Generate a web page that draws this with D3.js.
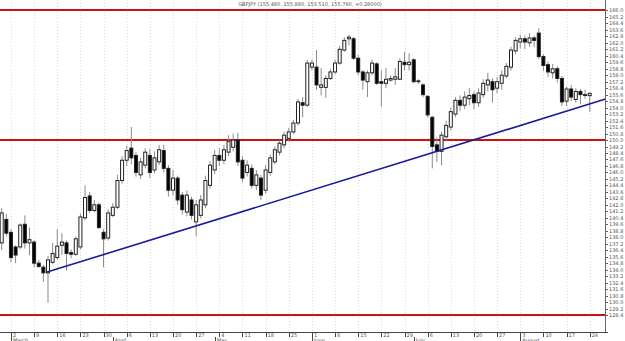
<!DOCTYPE html>
<html>
<head>
<meta charset="utf-8">
<script src="https://cdn.jsdelivr.net/npm/d3@7"></script>
<style>
  body { margin: 0; background: #fff; }
  text { font-family: "DejaVu Sans", Arial, sans-serif; fill: #555; }
</style>
</head>
<body>
<div id="chart"></div>
<script>
// Chart text
const title = "GBPJPY (155.480, 155.880, 153.510, 155.760, +0.28000)";
const firstDay = "2009-02-26";
const lastDay = "2009-08-24";
const monthNames = ["January", "February", "March", "April", "May", "June",
                    "July", "August", "September", "October", "November", "December"];

// daily candles [open, high, low, close], one per weekday from firstDay
const candles = [
  [137.3, 141.6, 136.4, 141.0], [140.2, 140.9, 138.1, 138.5],
  // March
  [138.6, 139.0, 134.9, 135.5], [136.8, 137.0, 134.8, 135.8], [136.8, 139.7, 136.5, 139.5],
  [139.6, 140.7, 136.6, 137.3], [137.3, 139.2, 135.8, 137.7], [137.4, 137.6, 134.3, 134.8],
  [134.8, 135.2, 134.2, 134.4], [134.3, 134.6, 132.5, 133.6], [133.6, 135.7, 129.9, 135.2],
  [134.9, 137.3, 134.7, 136.0], [135.5, 139.0, 135.2, 136.9], [137.0, 138.5, 135.8, 137.4],
  [137.3, 137.6, 133.9, 136.0], [136.1, 136.5, 135.4, 135.9], [135.9, 138.1, 135.7, 137.8],
  [136.8, 140.9, 136.5, 140.5], [140.4, 144.4, 140.1, 142.9], [143.1, 143.6, 141.0, 141.3],
  [141.3, 142.6, 141.1, 142.0], [142.0, 142.3, 139.0, 139.2], [138.6, 139.0, 134.3, 137.8],
  [137.9, 141.4, 137.6, 141.0],
  // April
  [140.7, 142.2, 140.5, 141.7], [141.7, 145.7, 141.5, 145.0], [145.0, 148.0, 144.6, 147.5],
  [147.5, 149.3, 146.8, 148.7], [149.0, 151.6, 147.0, 147.8], [148.1, 148.5, 145.5, 146.0],
  [145.7, 147.8, 145.2, 147.3], [146.9, 149.0, 146.5, 148.5], [148.1, 148.9, 145.3, 146.0],
  [146.3, 148.6, 145.9, 147.8], [147.3, 149.4, 146.9, 148.8], [148.7, 149.4, 146.0, 146.5],
  [146.5, 146.9, 143.0, 143.8], [143.8, 146.3, 143.2, 145.3], [145.3, 145.6, 142.0, 142.6],
  [143.2, 143.6, 140.8, 141.4], [141.1, 143.8, 140.6, 143.2], [142.6, 143.0, 140.2, 140.7],
  [139.9, 142.6, 138.1, 142.0], [140.7, 143.2, 140.3, 142.6], [142.0, 145.6, 141.6, 145.0],
  // May
  [144.4, 147.4, 144.0, 146.9], [146.3, 148.8, 145.8, 148.1], [148.1, 149.0, 146.8, 147.5],
  [147.5, 149.4, 147.0, 148.8], [148.5, 150.6, 148.0, 149.8], [149.1, 150.8, 148.6, 150.0],
  [150.0, 150.9, 146.8, 147.3], [147.5, 148.0, 144.8, 145.3], [146.0, 147.5, 145.5, 146.9],
  [146.5, 147.0, 144.0, 144.4], [144.4, 146.3, 143.8, 145.7], [145.3, 145.7, 142.6, 143.2],
  [143.8, 146.9, 143.4, 146.3], [146.0, 148.2, 145.6, 147.8], [147.3, 149.2, 147.0, 148.8],
  [148.5, 150.0, 148.1, 149.6], [149.4, 151.0, 149.0, 150.6], [150.2, 151.5, 149.8, 151.0],
  [151.0, 152.5, 150.7, 152.1], [152.1, 155.1, 151.8, 154.7], [154.6, 155.3, 152.8, 154.3],
  // June
  [154.3, 159.9, 154.1, 159.5], [159.0, 159.9, 158.6, 159.5], [159.0, 161.1, 156.2, 156.8],
  [156.5, 158.9, 155.5, 156.8], [156.5, 158.0, 155.2, 157.6], [157.6, 158.8, 157.4, 158.4],
  [158.4, 159.9, 158.1, 159.5], [159.5, 161.6, 159.3, 161.2], [161.1, 162.7, 160.9, 162.3],
  [162.5, 163.0, 161.7, 162.7], [162.5, 162.7, 159.9, 160.1], [160.1, 160.5, 158.0, 158.4],
  [158.4, 158.6, 156.2, 157.4], [157.2, 158.6, 155.3, 158.3], [158.3, 159.9, 158.0, 159.5],
  [159.4, 159.6, 156.8, 157.0], [157.2, 158.6, 154.1, 157.0], [157.0, 158.9, 156.4, 157.5],
  [157.4, 158.0, 157.2, 157.6], [157.5, 158.9, 156.8, 157.8], [157.5, 160.1, 157.4, 159.7],
  [159.6, 160.9, 158.6, 159.3],
  // July
  [159.3, 160.7, 158.6, 159.6], [159.9, 160.1, 157.0, 157.2], [157.3, 157.5, 156.9, 157.2],
  [156.8, 157.0, 155.3, 155.6], [155.4, 155.5, 152.8, 153.1], [152.8, 153.0, 146.5, 149.2],
  [149.4, 150.3, 147.3, 148.6], [148.6, 151.0, 146.9, 150.6], [150.4, 152.4, 149.8, 151.8],
  [151.6, 154.0, 151.2, 153.5], [153.2, 155.3, 152.8, 154.9], [154.9, 155.5, 153.6, 154.3],
  [154.3, 156.0, 153.8, 155.3], [155.1, 156.4, 154.3, 155.5], [155.6, 156.0, 153.8, 154.6],
  [154.6, 156.4, 154.1, 155.8], [155.6, 157.5, 155.2, 157.0], [156.8, 158.3, 156.0, 157.4],
  [157.2, 157.6, 154.6, 156.2], [156.4, 157.8, 155.8, 157.2], [157.0, 158.6, 156.2, 158.0],
  [157.9, 159.5, 157.6, 159.1], [159.0, 161.5, 158.6, 161.1],
  // August
  [161.0, 162.7, 160.6, 162.3], [162.1, 163.0, 161.3, 162.5], [162.5, 162.9, 161.2, 162.1],
  [162.0, 163.2, 161.5, 162.6], [162.6, 162.9, 161.5, 162.3], [163.2, 163.8, 160.0, 160.3],
  [160.3, 160.6, 158.5, 159.2], [159.3, 159.7, 157.8, 158.4], [158.3, 159.4, 157.6, 158.8],
  [158.8, 159.1, 157.1, 157.6], [157.6, 157.9, 154.2, 154.7], [154.8, 156.6, 154.2, 156.3],
  [156.3, 156.8, 154.8, 155.3], [155.0, 156.4, 154.6, 156.0], [156.0, 156.3, 154.4, 155.6],
  [155.6, 156.2, 155.1, 155.5], [155.48, 155.88, 153.51, 155.76]
];

// horizontal support / resistance levels and the rising trend line
const levels = [166.05, 150.0, 128.4];
const trendLine = [[9.8, 133.7], [130.4, 155.05]]; // [bar index, price]
const priceTickStep = 0.8;

const width = 625, height = 341;
const plotRight = 605, plotBottom = 332;

const days = d3.timeDay.range(new Date(firstDay + "T00:00"), d3.timeDay.offset(new Date(lastDay + "T00:00"), 1))
  .filter(d => d.getDay() !== 0 && d.getDay() !== 6);
const bars = candles.map((c, i) => ({ date: days[i], i, o: c[0], h: c[1], l: c[2], c: c[3] }));

const x = d3.scaleLinear().domain([0, 127]).range([1.7, 589.7]);
const y = d3.scaleLinear().domain([128.4, 166.05]).range([315, 10]);

const svg = d3.select("#chart").append("svg")
  .attr("width", width).attr("height", height);

// weekly grid lines (Mondays)
const mondays = bars.filter(b => b.date.getDay() === 1);
svg.append("g").selectAll("line").data(mondays).enter().append("line")
  .attr("x1", d => Math.round(x(d.i)) + 0.5).attr("x2", d => Math.round(x(d.i)) + 0.5)
  .attr("y1", 0).attr("y2", plotBottom)
  .attr("stroke", "#d9d9d9").attr("stroke-dasharray", "1,2");

// red levels
svg.append("g").selectAll("line").data(levels).enter().append("line")
  .attr("x1", 0).attr("x2", plotRight)
  .attr("y1", d => y(d)).attr("y2", d => y(d))
  .attr("stroke", "#cc1111").attr("stroke-width", 2);

// candles
const g = svg.append("g");
g.selectAll("line.wick").data(bars).enter().append("line")
  .attr("class", "wick")
  .attr("x1", d => x(d.i)).attr("x2", d => x(d.i))
  .attr("y1", d => y(d.h)).attr("y2", d => y(d.l))
  .attr("stroke", "#8a8a8a").attr("stroke-width", 1);
g.selectAll("rect").data(bars).enter().append("rect")
  .attr("x", d => x(d.i) - 1.5).attr("width", 3)
  .attr("y", d => y(Math.max(d.o, d.c)))
  .attr("height", d => Math.max(0.6, Math.abs(y(d.o) - y(d.c))))
  .attr("fill", d => d.c >= d.o ? "#fff" : "#000")
  .attr("stroke", "#222").attr("stroke-width", 1);

// trend line
svg.append("line")
  .attr("x1", x(trendLine[0][0])).attr("y1", y(trendLine[0][1]))
  .attr("x2", x(trendLine[1][0])).attr("y2", y(trendLine[1][1]))
  .attr("stroke", "#1a1a9a").attr("stroke-width", 1.6);

// title
svg.append("text").attr("x", 310).attr("y", 6)
  .attr("text-anchor", "middle").attr("font-size", 5).text(title);

// right price axis
svg.append("line").attr("x1", plotRight + 0.5).attr("x2", plotRight + 0.5)
  .attr("y1", 0).attr("y2", plotBottom).attr("stroke", "#666");
const priceTicks = d3.range(128.4, 166.5, priceTickStep);
const py = svg.append("g");
py.selectAll("line").data(priceTicks).enter().append("line")
  .attr("x1", plotRight).attr("x2", plotRight + 3)
  .attr("y1", d => Math.round(y(d)) + 0.5).attr("y2", d => Math.round(y(d)) + 0.5)
  .attr("stroke", "#666");
py.selectAll("text").data(priceTicks).enter().append("text")
  .attr("x", plotRight + 4).attr("y", d => y(d) + 2)
  .attr("font-size", 5).text(d => d3.format(".1f")(d));

// bottom date axis
svg.append("line").attr("x1", 0).attr("x2", plotRight + 3)
  .attr("y1", plotBottom + 0.5).attr("y2", plotBottom + 0.5).attr("stroke", "#444");
const dx = svg.append("g");
dx.selectAll("line").data(mondays).enter().append("line")
  .attr("x1", d => Math.round(x(d.i)) + 0.5).attr("x2", d => Math.round(x(d.i)) + 0.5)
  .attr("y1", plotBottom).attr("y2", plotBottom + 5).attr("stroke", "#444");
dx.selectAll("text").data(mondays).enter().append("text")
  .attr("x", d => x(d.i) + 2).attr("y", plotBottom + 5)
  .attr("font-size", 5).text(d => d.date.getDate());

const monthStarts = bars.filter((b, k) => k > 0 && b.date.getMonth() !== bars[k - 1].date.getMonth());
dx.selectAll("line.m").data(monthStarts).enter().append("line")
  .attr("class", "m")
  .attr("x1", d => Math.round(x(d.i)) + 0.5).attr("x2", d => Math.round(x(d.i)) + 0.5)
  .attr("y1", plotBottom + 5).attr("y2", height).attr("stroke", "#444");
dx.selectAll("text.m").data(monthStarts).enter().append("text")
  .attr("class", "m")
  .attr("x", d => x(d.i) + 2).attr("y", plotBottom + 9.5)
  .attr("font-size", 5).text(d => monthNames[d.date.getMonth()]);
</script>
</body>
</html>
